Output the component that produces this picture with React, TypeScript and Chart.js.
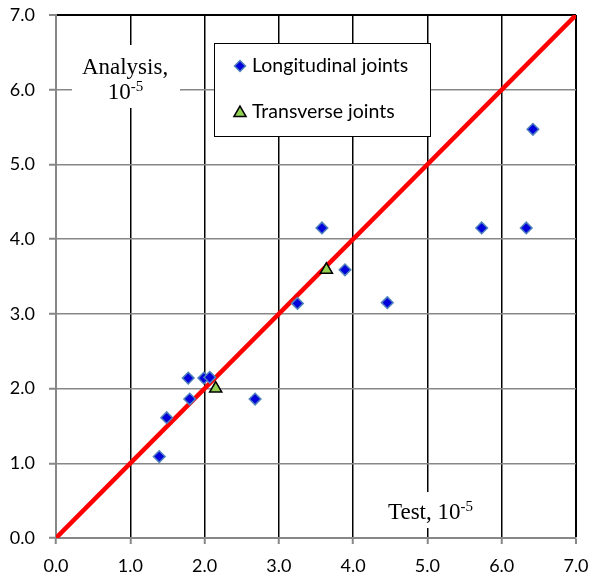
import React, { useEffect, useRef } from "react";
import { Chart, registerables } from "chart.js";
Chart.register(...registerables);

const longitudinalX = [1.39, 1.49, 1.78, 1.8, 1.99, 2.07, 2.68, 3.25, 3.58, 3.89, 4.46, 5.73, 6.33, 6.42];
const longitudinalY = [1.09, 1.61, 2.14, 1.86, 2.14, 2.15, 1.86, 3.14, 4.15, 3.59, 3.15, 4.15, 4.15, 5.47];
const transverseX = [2.15, 3.64];
const transverseY = [2.0, 3.59];
const lineX = [0, 7];
const lineY = [0, 7];
const axisMin = 0;
const axisMax = 7;
const legendLabels = ["Longitudinal joints", "Transverse joints"];
const yTitle = ["Analysis,", "10", "-5"];
const xTitle = ["Test, 10", "-5"];

const GRAY = "#878787";
const BLUE_FILL = "#0000DC";
const BLUE_EDGE = "#4F81BD";
const GREEN_FILL = "#92D050";

function drawDiamond(ctx: CanvasRenderingContext2D, x: number, y: number, r: number) {
  ctx.beginPath();
  ctx.moveTo(x, y - r);
  ctx.lineTo(x + r, y);
  ctx.lineTo(x, y + r);
  ctx.lineTo(x - r, y);
  ctx.closePath();
  ctx.fillStyle = BLUE_FILL;
  ctx.fill();
  ctx.strokeStyle = BLUE_EDGE;
  ctx.lineWidth = 1.5;
  ctx.stroke();
}

function drawTriangle(ctx: CanvasRenderingContext2D, x: number, y: number, r: number) {
  ctx.beginPath();
  ctx.moveTo(x, y - r);
  ctx.lineTo(x + r * Math.sin((2 * Math.PI) / 3), y - r * Math.cos((2 * Math.PI) / 3));
  ctx.lineTo(x + r * Math.sin((4 * Math.PI) / 3), y - r * Math.cos((4 * Math.PI) / 3));
  ctx.closePath();
  ctx.fillStyle = GREEN_FILL;
  ctx.fill();
  ctx.strokeStyle = "#000";
  ctx.lineWidth = 1.5;
  ctx.stroke();
}

const overlayPlugin = {
  id: "overlay",
  beforeDatasetsDraw(chart: any) {
    const ctx: CanvasRenderingContext2D = chart.ctx;
    ctx.save();
    ctx.fillStyle = "#fff";
    ctx.fillRect(72, 45, 108, 63);
    ctx.fillRect(380, 492, 106, 36);
    ctx.fillRect(214, 43, 216, 93);
    ctx.strokeStyle = "#000";
    ctx.lineWidth = 1;
    ctx.strokeRect(214.5, 43.5, 216, 93);

    // y title
    ctx.fillStyle = "#000";
    ctx.textBaseline = "alphabetic";
    ctx.font = "23px 'Liberation Serif'";
    ctx.textAlign = "center";
    ctx.fillText(yTitle[0], 125, 74);
    ctx.textAlign = "left";
    const w10 = ctx.measureText(yTitle[1]).width;
    ctx.font = "15px 'Liberation Serif'";
    const wExp = ctx.measureText(yTitle[2]).width;
    const startX = 125.5 - (w10 + wExp) / 2;
    ctx.font = "23px 'Liberation Serif'";
    ctx.fillText(yTitle[1], startX, 99);
    ctx.font = "15px 'Liberation Serif'";
    ctx.fillText(yTitle[2], startX + w10, 91);

    // x title
    ctx.font = "23px 'Liberation Serif'";
    ctx.fillText(xTitle[0], 388, 519);
    const wt = ctx.measureText(xTitle[0]).width;
    ctx.font = "15px 'Liberation Serif'";
    ctx.fillText(xTitle[1], 388 + wt, 511);

    // legend
    drawDiamond(ctx, 240, 66, 5.5);
    drawTriangle(ctx, 240, 113, 7);
    ctx.fillStyle = "#000";
    ctx.font = "19.5px Lato";
    ctx.textBaseline = "middle";
    ctx.fillText(legendLabels[0], 252, 66);
    ctx.fillText(legendLabels[1], 252, 112);
    ctx.restore();
  },
};

export default function App() {
  const ref = useRef<HTMLCanvasElement | null>(null);
  useEffect(() => {
    if (!ref.current) return;
    const tickFont = { family: "Lato", size: 18 };
    const chart = new Chart(ref.current, {
      type: "scatter",
      data: {
        datasets: [
          {
            type: "line",
            label: "Fit",
            data: lineX.map((x, i) => ({ x, y: lineY[i] })),
            borderColor: "#FF0000",
            borderWidth: 4.5,
            pointRadius: 0,
            order: 10,
          },
          {
            label: legendLabels[0],
            data: longitudinalX.map((x, i) => ({ x, y: longitudinalY[i] })),
            pointStyle: "rectRot",
            pointRadius: 5.8,
            backgroundColor: BLUE_FILL,
            borderColor: BLUE_EDGE,
            borderWidth: 1.5,
            order: 2,
          },
          {
            label: legendLabels[1],
            data: transverseX.map((x, i) => ({ x, y: transverseY[i] })),
            pointStyle: "triangle",
            pointRadius: 7,
            backgroundColor: GREEN_FILL,
            borderColor: "#000",
            borderWidth: 1.5,
            order: 1,
          },
        ],
      } as any,
      options: {
        animation: false,
        responsive: false,
        layout: { padding: { top: 15, right: 14, left: 0, bottom: 0 } },
        plugins: { legend: { display: false }, tooltip: { enabled: false } },
        scales: {
          x: {
            type: "linear",
            min: axisMin,
            max: axisMax,
            ticks: {
              stepSize: 1,
              callback: (v: any) => Number(v).toFixed(1),
              font: tickFont,
              color: "#000",
              padding: 11,
              maxRotation: 0,
              autoSkip: false,
            },
            grid: {
              color: (c: any) => (c.index === 0 ? GRAY : "#000"),
              lineWidth: (c: any) => (c.index === 7 ? 2 : 1.5),
              tickColor: GRAY,
              tickWidth: 2,
              tickLength: 6,
              drawTicks: true,
            },
            border: { color: GRAY, width: 2 },
            afterFit: (s: any) => {
              s.height = 39;
              s.paddingLeft = 0;
              s.paddingRight = 0;
            },
          },
          y: {
            type: "linear",
            min: axisMin,
            max: axisMax,
            ticks: {
              stepSize: 1,
              callback: (v: any) => Number(v).toFixed(1),
              font: tickFont,
              color: "#000",
              padding: 14,
              autoSkip: false,
            },
            grid: {
              color: (c: any) => (c.index === 7 ? "#000" : GRAY),
              lineWidth: (c: any) => (c.index === 7 ? 2 : 1.5),
              tickColor: GRAY,
              tickWidth: 2,
              tickLength: 7,
              drawTicks: true,
            },
            border: { color: GRAY, width: 2 },
            afterFit: (s: any) => {
              s.width = 56;
              s.paddingTop = 0;
              s.paddingBottom = 0;
            },
          },
        },
      } as any,
      plugins: [overlayPlugin],
    });
    return () => chart.destroy();
  }, []);
  return (
    <div style={{ position: "absolute", left: 0, top: 0, width: 590, height: 577, background: "#fff" }}>
      <canvas ref={ref} width={590} height={577} />
    </div>
  );
}
